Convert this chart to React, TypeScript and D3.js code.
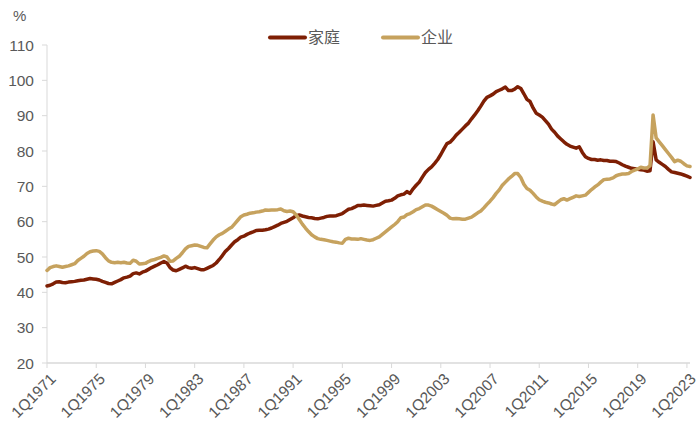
import React from "react";
import * as d3 from "d3";

const tickLabels = ["1Q1971","1Q1975","1Q1979","1Q1983","1Q1987","1Q1991","1Q1995","1Q1999","1Q2003","1Q2007","1Q2011","1Q2015","1Q2019","1Q2023"];
const yTicks = [20,30,40,50,60,70,80,90,100,110];
const seriesNames = ["家庭","企业"];

const household = [
41.8,42.0,42.4,42.9,43.0,42.8,42.7,42.9,43.0,43.1,43.3,43.4,43.5,43.7,43.9,43.8,43.7,43.5,43.1,42.8,
42.5,42.4,42.8,43.2,43.6,44.1,44.3,44.6,45.3,45.5,45.2,45.7,46.0,46.5,47.0,47.4,47.8,48.3,48.7,48.3,
47.0,46.3,46.1,46.5,46.9,47.4,47.0,46.8,47.0,46.7,46.4,46.4,46.8,47.2,47.6,48.3,49.3,50.4,51.6,52.4,
53.4,54.3,54.9,55.6,55.9,56.4,56.8,57.1,57.5,57.6,57.6,57.7,57.9,58.2,58.6,59.0,59.5,59.8,60.1,60.6,
61.1,61.7,61.9,61.6,61.4,61.2,61.1,60.9,60.8,61.0,61.2,61.5,61.6,61.6,61.7,62.0,62.3,62.9,63.5,63.7,
64.1,64.6,64.6,64.7,64.6,64.5,64.4,64.6,64.8,65.3,65.8,65.9,66.1,66.6,67.3,67.6,67.8,68.5,68.0,69.3,
70.3,71.2,72.6,73.9,74.8,75.5,76.5,77.6,79.0,80.6,82.1,82.5,83.4,84.5,85.3,86.2,87.1,87.9,89.1,90.2,
91.4,92.7,94.1,95.2,95.6,96.1,96.8,97.2,97.6,98.1,97.1,97.1,97.5,98.2,97.7,96.2,94.6,94.0,92.2,90.7,
90.2,89.6,88.6,87.6,86.2,85.3,84.2,83.4,82.6,81.9,81.4,81.1,80.8,81.2,79.6,78.4,77.9,77.6,77.6,77.4,
77.5,77.3,77.3,77.1,77.1,77.0,76.6,76.1,75.7,75.4,75.1,75.0,74.8,74.7,74.6,74.3,74.4,82.6,77.5,76.8,
76.2,75.6,74.8,74.1,73.9,73.7,73.5,73.2,72.9,72.5
];

const business = [
46.2,47.0,47.3,47.5,47.3,47.1,47.3,47.5,47.8,48.1,49.0,49.6,50.2,51.0,51.5,51.7,51.8,51.6,50.9,49.8,
48.9,48.5,48.4,48.5,48.4,48.5,48.3,48.2,49.1,48.8,48.0,48.1,48.2,48.7,49.1,49.3,49.6,49.9,50.3,50.0,
48.8,48.9,49.6,50.2,51.2,52.3,53.0,53.2,53.4,53.3,53.0,52.7,52.6,53.7,54.8,55.7,56.3,56.7,57.3,57.9,
58.4,59.4,60.4,61.4,61.9,62.1,62.4,62.5,62.7,62.8,63.0,63.3,63.2,63.3,63.3,63.4,63.6,63.1,62.9,63.0,
62.8,61.9,60.6,59.3,58.2,57.2,56.3,55.7,55.2,55.0,54.9,54.7,54.5,54.3,54.2,54.0,53.9,55.0,55.3,55.1,
55.1,55.0,55.2,55.0,54.8,54.7,54.9,55.3,55.7,56.4,57.1,57.8,58.5,59.2,60.0,61.1,61.3,62.0,62.3,62.8,
63.4,63.7,64.2,64.7,64.7,64.4,63.9,63.4,62.9,62.4,61.8,61.0,60.8,60.9,60.8,60.7,60.7,61.0,61.3,61.9,
62.5,63.0,63.9,64.9,65.8,66.8,68.0,69.0,70.3,71.2,72.1,72.8,73.6,73.6,72.5,70.6,69.4,68.9,68.0,67.0,
66.2,65.8,65.5,65.3,65.0,64.8,65.5,66.2,66.5,66.1,66.5,66.9,67.3,67.1,67.3,67.5,68.3,69.1,69.8,70.4,
71.2,71.9,72.0,72.1,72.4,73.0,73.3,73.5,73.5,73.6,74.2,74.6,74.9,75.4,75.2,75.2,75.8,90.2,83.7,82.6,
81.5,80.4,79.3,78.2,77.0,77.4,77.1,76.4,75.8,75.6
];

const colors = ["#7e1f04", "#c6a25e"];
const font = "'Liberation Sans', Arial, sans-serif";
const cjk = "'Noto Sans CJK SC', 'Liberation Sans', sans-serif";

export default function App() {
  const W = 700, H = 436;
  const n = household.length;
  const x = d3.scaleLinear().domain([0, n - 1]).range([47, 690]);
  const y = d3.scaleLinear().domain([20, 110]).range([363, 45]);
  const line = d3.line<number>().x((_, i) => x(i)).y((d) => y(d)).curve(d3.curveLinear);
  const series = [household, business];
  const tickIdx = tickLabels.map((_, k) => k * 16);
  const axisColor = "#d9d9d9";
  const textColor = "#595959";
  return (
    <svg width={W} height={H} style={{ position: "absolute", left: 0, top: 0, background: "#fff" }}>
      <text x={13} y={21} fontFamily={font} fontSize={15} fill={textColor}>%</text>
      <line x1={47} x2={47} y1={y(110)} y2={y(20)} stroke={axisColor} strokeWidth={1} />
      {yTicks.map((t) => (
        <g key={t}>
          <line x1={42} x2={47} y1={y(t)} y2={y(t)} stroke={axisColor} strokeWidth={1} />
          <text x={34} y={y(t)} dy="0.36em" textAnchor="end" fontFamily={font} fontSize={15.5} fill={textColor}>{t}</text>
        </g>
      ))}
      <line x1={47} x2={690} y1={363} y2={363} stroke={axisColor} strokeWidth={1.5} />
      {tickIdx.map((i, k) => (
        <g key={i}>
          <line x1={x(i)} x2={x(i)} y1={363} y2={368} stroke={axisColor} strokeWidth={1} />
          <text transform={`translate(${x(i) + 6},${376}) rotate(-45)`} textAnchor="end" fontFamily={font} fontSize={15.5} fill={textColor} dy="0.35em">{tickLabels[k]}</text>
        </g>
      ))}
      {series.map((s, k) => (
        <path key={k} d={line(s) || ""} fill="none" stroke={colors[k]} strokeWidth={3.5} strokeLinejoin="round" strokeLinecap="round" />
      ))}
      {[270, 383].map((lx, k) => (
        <g key={k}>
          <line x1={lx} x2={lx + 35} y1={37.5} y2={37.5} stroke={colors[k]} strokeWidth={4} strokeLinecap="round" />
          <text x={lx + 38} y={37.5} dy="0.36em" fontFamily={cjk} fontSize={16} fill={textColor}>{seriesNames[k]}</text>
        </g>
      ))}
    </svg>
  );
}
